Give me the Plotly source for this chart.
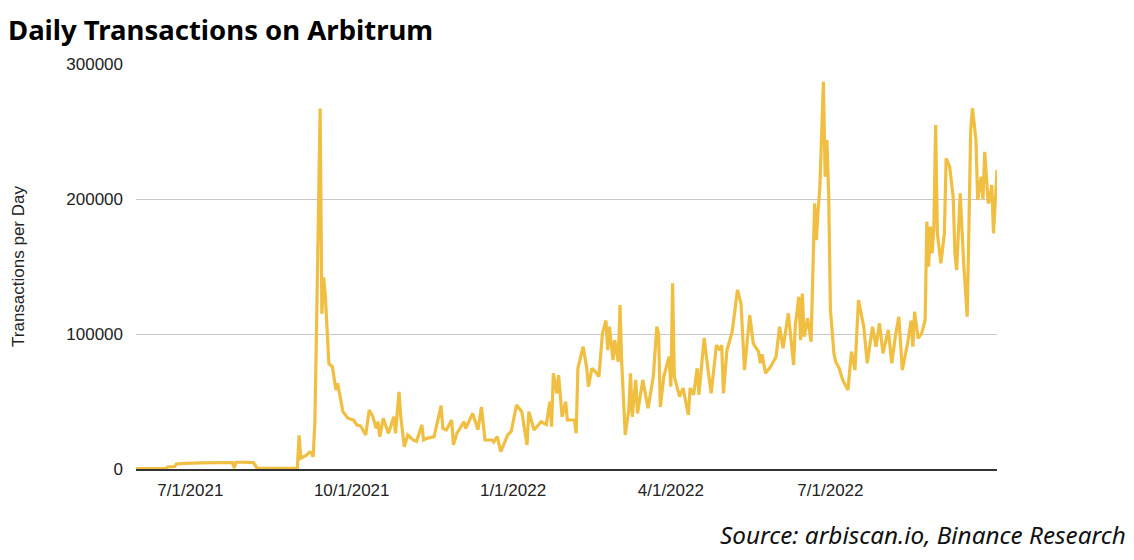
import pandas as pd
import plotly.graph_objects as go

# Days since 2021-05-31 and daily transactions
start_date = "2021-05-31"
day_offsets = [
    0, 8, 17, 18, 22, 23, 28, 37, 45, 54, 55, 56, 57, 62, 67, 69, 77, 85, 92,
    93, 94, 97, 99, 100, 101, 102, 103, 105, 106, 107, 108, 110, 112, 113, 114,
    115, 117, 118, 121, 124, 126, 128, 131, 133, 135, 137, 138, 139, 141, 144,
    147, 148, 150, 151, 153, 155, 158, 160, 163, 164, 166, 170, 174, 175, 177,
    180, 181, 183, 187, 188, 192, 195, 197, 199, 203, 204, 206, 208, 212, 214,
    217, 220, 223, 224, 227, 231, 234, 236, 237, 238, 240, 241, 243, 245, 246,
    250, 251, 252, 255, 257, 258, 260, 262, 264, 266, 268, 269, 270, 272, 273,
    275, 276, 277, 279, 281, 282, 283, 285, 286, 289, 292, 295, 297, 298, 299,
    301, 304, 305, 306, 307, 310, 312, 315, 316, 318, 320, 321, 324, 326, 328,
    331, 333, 334, 335, 337, 340, 343, 345, 347, 350, 352, 355, 356, 357, 359,
    362, 365, 367, 369, 372, 375, 376, 378, 379, 380, 381, 383, 385, 387, 388,
    389, 390, 392, 393, 394, 395, 396, 398, 399, 401, 403, 406, 408, 410, 412,
    415, 417, 420, 422, 424, 426, 429, 431, 433, 435, 437, 440, 442, 443, 444,
    446, 448, 450, 451, 452, 453, 454, 455, 456, 457, 459, 461, 462, 464, 466,
    467, 468, 470, 472, 474, 475, 476, 477, 479, 480, 482, 483, 484, 486, 487,
    488, 489, 491,
]
transactions = [
    300, 300, 400, 1500, 1800, 3700, 4200, 4500, 4800, 5000, 4800, 800, 5000, 5000, 4700, 600, 400, 500, 700,
    25000, 8000, 10000, 12500, 12000, 9000, 34000, 108000, 267000, 115000, 142000, 127600, 78000, 75800, 68400, 58500,
    63500, 48700, 42400, 37500, 36300, 32600, 32000, 25200, 43700, 39000, 30100, 35000, 24000, 37500, 26400,
    38700, 26400, 57200, 38700, 16500, 25200, 21500, 20500, 32600, 21500, 22700, 24000, 47000, 30000, 28900,
    36300, 17800, 26400, 35000, 30000, 41200, 29000, 46000, 21500, 21500, 20000, 24000, 12800, 25200, 28000,
    47400, 42400, 17800, 42400, 28900, 35000, 33000, 49900, 31300, 70900, 56000, 69600, 38700, 49900, 36300,
    36300, 26400, 74600, 90600, 75000, 61000, 74600, 72000, 68400, 100500, 110000, 88000, 105400, 80700, 95500,
    79500, 121500, 78300, 25200, 43700, 70900, 38700, 66000, 41200, 66000, 45000, 68400, 105400, 100500, 46000,
    68400, 83200, 61000, 137500, 68400, 53600, 60000, 40000, 60000, 55000, 74600, 55000, 97000, 75800, 56000,
    91800, 88000, 91800, 56000, 88000, 101700, 132600, 122700, 73300, 114000, 93000, 86900, 78300, 85000, 70900,
    76000, 83200, 105400, 89400, 115300, 77000, 106700, 127600, 95500, 130000, 98000, 111600, 94300, 196800, 169600,
    191800, 209100, 286900, 216500, 243700, 204200, 117800, 85700, 79500, 74600, 66000, 58500, 86900, 73300, 125200,
    105400, 78300, 105400, 90600, 107900, 85700, 103000, 78300, 98000, 112800, 73300, 93000, 110000, 90600, 116500,
    96800, 100500, 110000, 183200, 149900, 179500, 159800, 179500, 254800, 174600, 152400, 174600, 230100, 223900, 201700,
    159800, 147400, 204200, 152400, 112800, 179500, 251100, 267200, 243700, 199300, 216500, 200000, 235000, 196800, 200000,
    210400, 174600, 221500,
]

x_tick_dates = ["2021-07-01", "2021-10-01", "2022-01-01", "2022-04-01", "2022-07-01"]
x_tick_labels = ["7/1/2021", "10/1/2021", "1/1/2022", "4/1/2022", "7/1/2022"]
y_tick_values = [0, 100000, 200000, 300000]

dates = pd.to_datetime(start_date) + pd.to_timedelta(day_offsets, unit="D")

fig = go.Figure()
fig.add_trace(go.Scatter(
    x=dates, y=transactions, mode="lines",
    line=dict(color="#F0BF42", width=3.2),
    hoverinfo="x+y",
))

axis_font = dict(family="Liberation Sans, Arial, sans-serif", size=17, color="#222222")

fig.update_layout(
    width=1126, height=552,
    margin=dict(l=128, r=137, t=56, b=91, autoexpand=False),
    paper_bgcolor="white", plot_bgcolor="white",
    showlegend=False,
    title=dict(
        text="<b>Daily Transactions on Arbitrum</b>",
        x=0.0, xanchor="left", y=0.960, yanchor="middle",
        font=dict(family="Noto Sans, sans-serif", size=27.5, color="#000000"),
    ),
    xaxis=dict(
        range=["2021-05-31", "2022-10-04"],
        tickmode="array", tickvals=x_tick_dates, ticktext=x_tick_labels,
        showgrid=False, showline=True, linecolor="#333333", linewidth=1.5,
        ticks="", tickfont=axis_font, zeroline=False,
        ticklabelstandoff=5,
    ),
    yaxis=dict(
        range=[0, 300000],
        tickmode="array", tickvals=y_tick_values, tickformat="d",
        showgrid=True, gridcolor="#c8c8c8", gridwidth=1,
        zeroline=False, showline=False, ticks="",
        ticklabelstandoff=12,
        tickfont=axis_font,
        title=dict(text="Transactions per Day", font=axis_font, standoff=37),
    ),
    annotations=[dict(
        text="<i>Source: arbiscan.io, Binance Research</i>",
        xref="paper", yref="paper", x=1.152, y=-0.1605,
        xanchor="right", yanchor="middle", showarrow=False,
        font=dict(family="Noto Sans, sans-serif", size=24.3, color="#111111"),
    )],
)

fig.write_html("out.html")
